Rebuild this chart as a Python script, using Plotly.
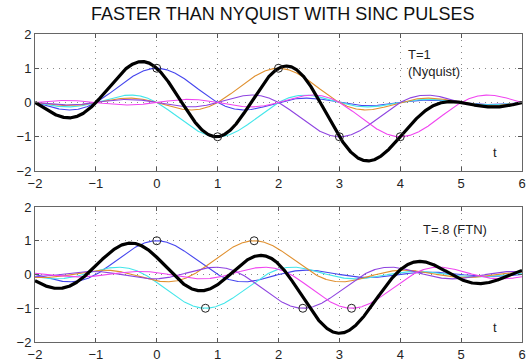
import numpy as np
import plotly.graph_objects as go

# Data
symbols = [1, -1, 1, -1, -1]
spacing_top = 1.0      # T=1 (Nyquist)
spacing_bottom = 0.8   # T=.8 (FTN)
pulse_colors = ["#4646ee", "#44e6ea", "#e0902f", "#8f44e0", "#f045f0"]
x_ticks = [-2, -1, 0, 1, 2, 3, 4, 5, 6]
y_ticks = [-2, -1, 0, 1, 2]

t = np.linspace(-2, 6, 1601)

fig = go.Figure()

def add_panel(T, xa, ya):
    centers = [k * T for k in range(len(symbols))]
    total = np.zeros_like(t)
    for a, c, col in zip(symbols, centers, pulse_colors):
        p = a * np.sinc(t - c)
        total += p
        fig.add_trace(go.Scatter(x=t, y=p, mode="lines", line=dict(color=col, width=1.1),
                                 xaxis=xa, yaxis=ya, showlegend=False, hoverinfo="skip"))
    fig.add_trace(go.Scatter(x=t, y=total, mode="lines", line=dict(color="black", width=3.2),
                             xaxis=xa, yaxis=ya, showlegend=False, hoverinfo="skip"))
    fig.add_trace(go.Scatter(x=centers, y=symbols, mode="markers",
                             marker=dict(symbol="circle-open", size=8, color="#222", line=dict(width=1)),
                             xaxis=xa, yaxis=ya, showlegend=False, hoverinfo="skip"))

add_panel(spacing_top, "x", "y")
add_panel(spacing_bottom, "x2", "y2")

font = dict(family="Liberation Sans, Arial, sans-serif", size=13, color="#222")
grid_style = dict(showgrid=True, gridcolor="#888888", griddash="1px,5px", gridwidth=1)
ax_common = dict(range=[-2, 6], tickvals=x_ticks, ticks="inside", ticklen=4, tickcolor="#555",
                 showline=True, linecolor="#666", linewidth=1, mirror="ticks",
                 zeroline=False, tickfont=font, automargin=False, **grid_style)
ay_common = dict(range=[-2, 2], tickvals=y_ticks, ticks="inside", ticklen=4, tickcolor="#555",
                 showline=True, linecolor="#666", linewidth=1, mirror="ticks",
                 zeroline=False, tickfont=font, automargin=False, **grid_style)

xd = [35 / 529, 522 / 529]
fig.update_layout(
    template="none",
    width=529, height=361,
    margin=dict(l=0, r=0, t=0, b=0, pad=0),
    paper_bgcolor="white", plot_bgcolor="white",
    xaxis=dict(domain=xd, anchor="y", **ax_common),
    yaxis=dict(domain=[1 - 171 / 361, 1 - 34 / 361], anchor="x", **ay_common),
    xaxis2=dict(domain=xd, anchor="y2", **ax_common),
    yaxis2=dict(domain=[1 - 342 / 361, 1 - 207 / 361], anchor="x2", **ay_common),
    font=font,
)

ann_font = dict(family="Liberation Sans, Arial, sans-serif", size=13, color="#222")
fig.add_annotation(text="FASTER THAN NYQUIST WITH SINC PULSES", x=282 / 529, y=1 - 14 / 361,
                   xref="paper", yref="paper", xanchor="center", yanchor="middle", showarrow=False,
                   font=dict(family="Liberation Sans, Arial, sans-serif", size=18, color="#111"))
fig.add_annotation(text="T=1<br>(Nyquist)", x=4.1, y=1.15, xref="x", yref="y", xanchor="left",
                   yanchor="middle", align="left", showarrow=False, font=ann_font)
fig.add_annotation(text="t", x=5.55, y=-1.47, xref="x", yref="y", yanchor="middle",
                   showarrow=False, font=ann_font)
fig.add_annotation(text="T=.8 (FTN)", x=4.34, y=1.32, xref="x2", yref="y2", xanchor="left",
                   yanchor="middle", showarrow=False, font=ann_font)
fig.add_annotation(text="t", x=5.55, y=-1.56, xref="x2", yref="y2", yanchor="middle",
                   showarrow=False, font=ann_font)

fig.write_html("out.html", config={"displayModeBar": False},
               post_script="document.body.style.margin='0';document.body.style.overflow='hidden';")
